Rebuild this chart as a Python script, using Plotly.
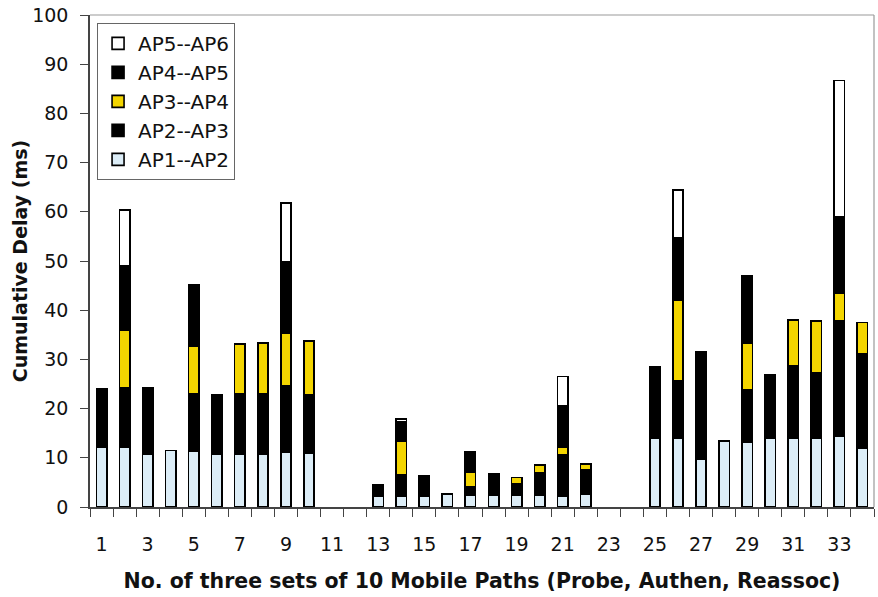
import plotly.graph_objects as go

# Path index (three sets of 10 mobile paths, with gaps between sets)
paths = list(range(1, 35))

# Per-hop delay contributions (ms); None where a path has no such hop
N = None
ap1_ap2 = [12.2, 12.2, 10.8, 11.5, 11.3, 10.8, 10.8, 10.8, 11.1, 10.9,
           N, N,
           2.1, 2.1, 2.2, 2.6, 2.5, 2.5, 2.5, 2.5, 2.1, 2.7,
           N, N,
           13.9, 13.9, 9.8, 13.4, 13.2, 13.9, 13.9, 13.9, 14.4, 12.0]
ap2_ap3 = [11.8, 12.0, 13.4, N, 11.7, 12.0, 12.3, 12.2, 13.6, 11.9,
           N, N,
           2.5, 4.5, 4.2, N, 1.7, 4.2, 2.3, 4.4, 8.6, 4.8,
           N, N,
           14.5, 11.7, 21.7, N, 10.7, 13.0, 14.9, 13.3, 23.4, 19.2]
ap3_ap4 = [N, 11.7, N, N, 9.6, N, 10.0, 10.3, 10.7, 10.9,
           N, N,
           N, 6.8, N, N, 2.8, N, 1.2, 1.6, 1.5, 1.3,
           N, N,
           N, 16.4, N, N, 9.4, N, 9.2, 10.6, 5.7, 6.3]
ap4_ap5 = [N, 13.2, N, N, 12.5, N, N, N, 14.4, N,
           N, N,
           N, 4.0, N, N, 4.2, N, N, N, 8.3, N,
           N, N,
           N, 12.7, N, N, 13.6, N, N, N, 15.4, N]
ap5_ap6 = [N, 11.3, N, N, N, N, N, N, 12.0, N,
           N, N,
           N, 0.5, N, N, N, N, N, N, 6.0, N,
           N, N,
           N, 9.7, N, N, N, N, N, N, 27.8, N]

x_tick_vals = list(range(1, 35, 2))
x_tick_labels = [str(v) for v in x_tick_vals]
y_ticks = list(range(0, 101, 10))

series = [
    ("AP1--AP2", ap1_ap2, "#dcedf7"),
    ("AP2--AP3", ap2_ap3, "#000000"),
    ("AP3--AP4", ap3_ap4, "#f3d500"),
    ("AP4--AP5", ap4_ap5, "#000000"),
    ("AP5--AP6", ap5_ap6, "#ffffff"),
]

fig = go.Figure()
for name, vals, color in series:
    fig.add_trace(go.Bar(
        x=paths, y=vals, name=name, width=0.45,
        marker=dict(color=color, line=dict(color="#000000", width=1.6)),
    ))

font = "DejaVu Sans, sans-serif"
axis_col = "#444444"
x_range = [0.5, 34.5]
fig.update_layout(
    width=878, height=597,
    barmode="stack",
    plot_bgcolor="white", paper_bgcolor="white",
    margin=dict(l=90, r=4, t=15, b=90),
    font=dict(family=font, size=19, color="#111111"),
    legend=dict(
        x=0.009, y=0.984, xanchor="left", yanchor="top",
        traceorder="reversed",
        bordercolor="#666666", borderwidth=1, bgcolor="white",
        font=dict(size=20), tracegroupgap=0,
    ),
    showlegend=True,
    # light frame along the top and right of the plotting area
    shapes=[
        dict(type="line", xref="paper", yref="paper", x0=0, x1=1, y0=1, y1=1,
             line=dict(color="#999999", width=1.2)),
        dict(type="line", xref="paper", yref="paper", x0=1, x1=1, y0=0, y1=1,
             line=dict(color="#999999", width=1.2)),
    ],
    # primary x axis: tick marks between categories, no labels
    xaxis=dict(
        range=x_range,
        tickmode="linear", tick0=0.5, dtick=1,
        ticks="outside", ticklen=8, tickcolor=axis_col, tickwidth=1.2,
        showticklabels=False,
        showline=True, linecolor=axis_col, linewidth=1.5,
        showgrid=False, zeroline=False,
        title=dict(
            text="<b>No. of three sets of 10 Mobile Paths (Probe, Authen, Reassoc)</b>",
            font=dict(size=20.5), standoff=58,
        ),
    ),
    # overlaid x axis carrying the odd-numbered path labels
    xaxis2=dict(
        overlaying="x", side="bottom", anchor="y",
        range=x_range,
        tickmode="array", tickvals=x_tick_vals, ticktext=x_tick_labels,
        ticks="", ticklabelstandoff=24,
        tickfont=dict(size=19),
        showline=False, showgrid=False, zeroline=False,
    ),
    yaxis=dict(
        range=[0, 100],
        tickmode="array", tickvals=y_ticks,
        ticks="outside", ticklen=8, tickcolor=axis_col, tickwidth=1.2,
        ticklabelstandoff=8,
        showline=True, linecolor=axis_col, linewidth=1.5,
        showgrid=False, zeroline=False,
        tickfont=dict(size=19),
        title=dict(text="<b>Cumulative Delay (ms)</b>", font=dict(size=19), standoff=0),
    ),
)

# invisible helper trace so the label axis is drawn
fig.add_trace(go.Scatter(x=[x_range[0]], y=[0], xaxis="x2", mode="markers",
                         marker=dict(opacity=0), showlegend=False, hoverinfo="skip"))

fig.write_html("out.html")
